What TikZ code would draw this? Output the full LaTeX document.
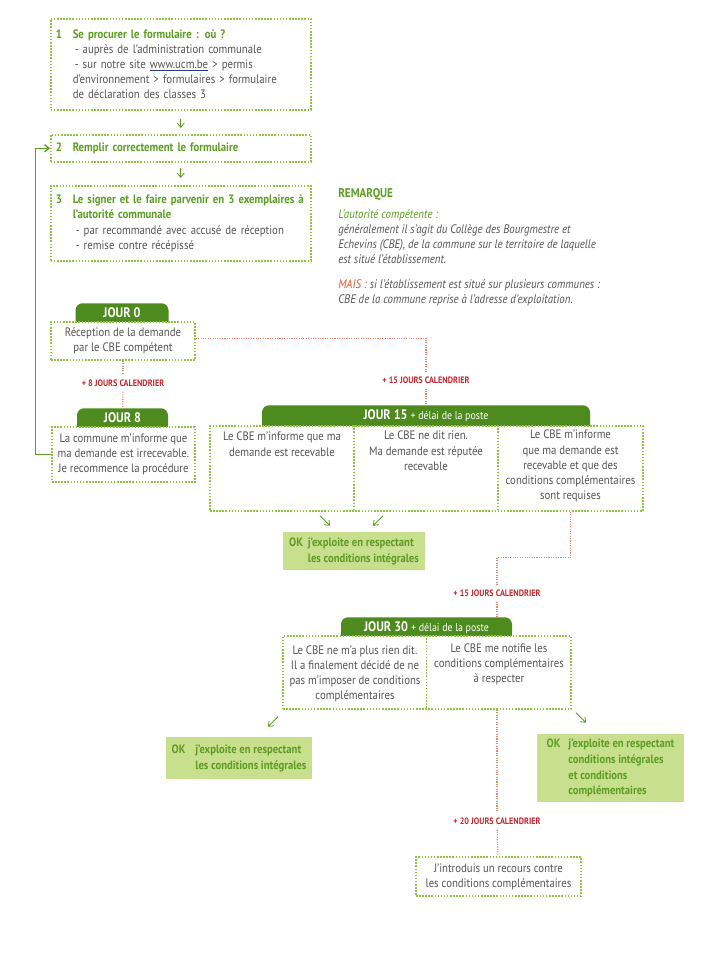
\documentclass[tikz,border=0pt]{standalone}
\usepackage{fontspec}
\setmainfont{PT Sans}[FakeStretch=0.88]
\usepackage{tikz}
\usetikzlibrary{positioning}
\usetikzlibrary{calc}
\usetikzlibrary{arrows.meta}

\definecolor{dotgreen}{HTML}{8DC63F}
\definecolor{titlegreen}{HTML}{5C9E22}
\definecolor{tabgreen}{HTML}{4E8B1E}
\definecolor{okfill}{HTML}{C8DF8E}
\definecolor{okgreen}{HTML}{5E9B26}
\definecolor{calred}{HTML}{C0282D}
\definecolor{delayred}{HTML}{E4876A}
\definecolor{maisred}{HTML}{E2542B}
\definecolor{bodygray}{HTML}{555555}
\definecolor{linkblue}{HTML}{2B3A7A}

\newlength{\pxu}
\setlength{\pxu}{0.025cm}

\newcommand{\bodyfont}{\fontsize{8.7}{10.8}\selectfont}
\newcommand{\remfont}{\fontsize{8.8}{10.7}\selectfont\itshape}
\newcommand{\tabfont}{\fontsize{9.8}{11}\selectfont\bfseries}
\newcommand{\smalltab}{\fontsize{8}{10}\selectfont\mdseries}
\newcommand{\lblfont}{\fontsize{6.6}{7}\selectfont\bfseries}
\newcommand{\okfont}{\fontsize{8.6}{11.2}\selectfont\bfseries}
\newcommand{\ind}{\hspace*{17\pxu}}
\newcommand{\stepnum}[1]{\makebox[17\pxu][l]{#1}}
\newcommand{\weblink}[1]{{\color{linkblue}\underline{\color{bodygray}#1}}}

\begin{document}
\begin{tikzpicture}[
    x=\pxu, y=-\pxu,
    >={Straight Barb[length=3pt,width=5pt]},
    every node/.style={font=\bodyfont, text=bodygray},
    divider/.style={
        draw=dotgreen,
        line width=1.1pt,
        dash pattern=on 1.1pt off 1.1pt
    },
    dotframe/.style={
        divider,
        fill=white,
        inner sep=0pt
    },
    stepbox/.style={dotframe, anchor=north west, align=left},
    daybox/.style={dotframe, align=center},
    daytab/.style={
        fill=tabgreen,
        rounded corners=7\pxu,
        text=white,
        font=\tabfont,
        inner sep=0pt,
        anchor=north,
        text height=14\pxu,
        text depth=13\pxu
    },
    celltext/.style={anchor=north, align=center, inner sep=0pt},
    okbox/.style={fill=okfill, text=okgreen, font=\okfont, inner sep=0pt},
    delay/.style={draw=delayred, line width=0.8pt, dash pattern=on 0.8pt off 0.9pt},
    delaylabel/.style={text=calred, font=\lblfont, inner xsep=2\pxu, inner ysep=5\pxu},
    pointer/.style={->, draw=titlegreen, line width=0.6pt},
    loopback/.style={->, draw=titlegreen, line width=1pt},
    remark/.style={anchor=north west, align=left, inner sep=0pt, font=\remfont}
]
\path[use as bounding box, fill=white] (0,0) rectangle (720,960);

% Steps
\node[stepbox, minimum width=260\pxu, minimum height=91\pxu, text width=250\pxu] (procurer) at (50,18) {%
    \textcolor{titlegreen}{\bfseries\stepnum{1}Se procurer le formulaire : où ?}\\
    \ind\hspace*{2\pxu}- auprès de l'administration communale\\
    \ind\hspace*{2\pxu}- sur notre site \weblink{www.ucm.be} > permis\\
    \ind d'environnement > formulaires > formulaire\\
    \ind de déclaration des classes 3};

\node[stepbox, minimum width=260\pxu, minimum height=27\pxu, text width=250\pxu] (remplir) at (50,134) {%
    \textcolor{titlegreen}{\bfseries\stepnum{2}Remplir correctement le formulaire}};

\node[stepbox, minimum width=260\pxu, minimum height=75\pxu, text width=250\pxu] (signer) at (50,185) {%
    \textcolor{titlegreen}{\bfseries\stepnum{3}Le signer et le faire parvenir en 3 exemplaires à}\\
    \ind\textcolor{titlegreen}{\bfseries l'autorité communale}\\
    \ind\hspace*{3\pxu}- par recommandé avec accusé de réception\\
    \ind\hspace*{3\pxu}- remise contre récépissé};

% Remarque
\node[remark] (remarque) at (338,188) {%
    {\color{titlegreen}\fontsize{9}{10.7}\selectfont\upshape\bfseries REMARQUE}\\[6\pxu]
    {\color{titlegreen}L'autorité compétente :}\\
    généralement il s'agit du Collège des Bourgmestre et\\
    Echevins (CBE), de la commune sur le territoire de laquelle\\
    est situé l'établissement.\\[10\pxu]
    {\color{maisred}MAIS :} si l'établissement est situé sur plusieurs communes :\\
    CBE de la commune reprise à l'adresse d'exploitation.};

% Jour 0 et jour 8
\node[daytab, minimum width=93\pxu] (tab0) at (122,303) {JOUR 0};
\node[daybox, minimum width=144\pxu, minimum height=38\pxu] (jour0) at (123,341) {Réception de la demande\\par le CBE compétent};

\node[daytab, minimum width=91\pxu] (tab8) at (122.5,408) {JOUR 8};
\node[daybox, minimum width=143\pxu, minimum height=55\pxu] (jour8) at (123.5,454.5) {La commune m'informe que\\ma demande est irrecevable.\\Je recommence la procédure};

% Jour 15
\node[daytab, minimum width=328\pxu] (tab15) at (426,405) {JOUR 15 {\smalltab + délai de la poste}};
\node[daybox, minimum width=433\pxu, minimum height=85\pxu] (jour15) at (426.5,468.5) {};
\coordinate (div15a) at (354,0);
\coordinate (div15b) at (498,0);
\draw[divider] (jour15.north -| div15a) -- (jour15.south -| div15a);
\draw[divider] (jour15.north -| div15b) -- (jour15.south -| div15b);
\node[celltext] (recevable) at (282,432) {Le CBE m'informe que ma\\demande est recevable};
\node[celltext] (silence) at (426,431) {Le CBE ne dit rien.\\Ma demande est réputée\\recevable};
\node[celltext] (conditions) at (570.5,430) {Le CBE m'informe\\que ma demande est\\recevable et que des\\conditions complémentaires\\sont requises};

\node[okbox, minimum width=142\pxu, minimum height=38\pxu] (ok15) at (354,551) {%
    \begin{tabular}{@{}l@{\hspace{5\pxu}}l@{}}OK & j'exploite en respectant\\ & les conditions intégrales\end{tabular}};

% Jour 30
\node[daytab, minimum width=171\pxu] (tab30) at (426.5,617) {JOUR 30 {\smalltab + délai de la poste}};
\node[daybox, minimum width=288\pxu, minimum height=73\pxu] (jour30) at (427,672.5) {};
\coordinate (div30) at (426.5,0);
\draw[divider] (jour30.north -| div30) -- (jour30.south -| div30);
\node[celltext] (plusrien) at (355,645) {Le CBE ne m'a plus rien dit.\\Il a finalement décidé de ne\\pas m'imposer de conditions\\complémentaires};
\node[celltext] (notifie) at (499,643) {Le CBE me notifie les\\conditions complémentaires\\à respecter};

\node[okbox, minimum width=146\pxu, minimum height=42\pxu] (ok30a) at (239,758) {%
    \begin{tabular}{@{}l@{\hspace{10\pxu}}l@{}}OK & j'exploite en respectant\\ & les conditions intégrales\end{tabular}};
\node[okbox, minimum width=147\pxu, minimum height=68\pxu] (ok30b) at (610.5,768) {%
    \begin{tabular}{@{}l@{\hspace{8\pxu}}l@{}}OK & j'exploite en respectant\\ & conditions intégrales\\ & et conditions\\ & complémentaires\end{tabular}};

\node[daybox, minimum width=165\pxu, minimum height=39\pxu] (recours) at (498.5,876.5) {J'introduis un recours contre\\les conditions complémentaires};

% Delais
\node[delaylabel] (plus8) at (123,383) {+ 8 JOURS CALENDRIER};
\node[delaylabel] (plus15) at (426,380) {+ 15 JOURS CALENDRIER};
\node[delaylabel] (plus15b) at (497,593) {+ 15 JOURS CALENDRIER};
\node[delaylabel] (plus20) at (497,821) {+ 20 JOURS CALENDRIER};

\draw[delay] (jour0) -- (plus8);
\draw[delay] (plus8) -- (tab8);
\draw[delay] ([yshift=2pt]jour0.east) -| (plus15);
\draw[delay] (plus15) -- (tab15);
\draw[delay] (jour15.south -| conditions) -- ++(0,46) -| (plus15b);
\draw[delay] (plus15b) -- (plus15b |- tab30.north);
\draw[delay] (plus20 |- jour30.south) -- (plus20);
\draw[delay] (plus20) -- (recours);

% Arrows
\draw[pointer] ($(procurer.south)+(0,8)$) -- ($(remplir.north)+(0,-6)$);
\draw[pointer] ($(remplir.south)+(0,5)$) -- ($(signer.north)+(0,-7)$);
\draw[pointer] ($(ok15.north)+(-34,-16)$) -- ($(ok15.north)+(-24,-6)$);
\draw[pointer] ($(ok15.north)+(29,-16)$) -- ($(ok15.north)+(19,-6)$);
\draw[pointer] ($(ok30a.north)+(39,-20)$) -- ($(ok30a.north)+(29,-10)$);
\draw[pointer] ($(ok30b.north)+(-34.5,-21)$) -- ($(ok30b.north)+(-24.5,-11)$);
\draw[loopback] (jour8.west) -- ++(-16,0) |- (remplir.west);

\end{tikzpicture}
\end{document}
